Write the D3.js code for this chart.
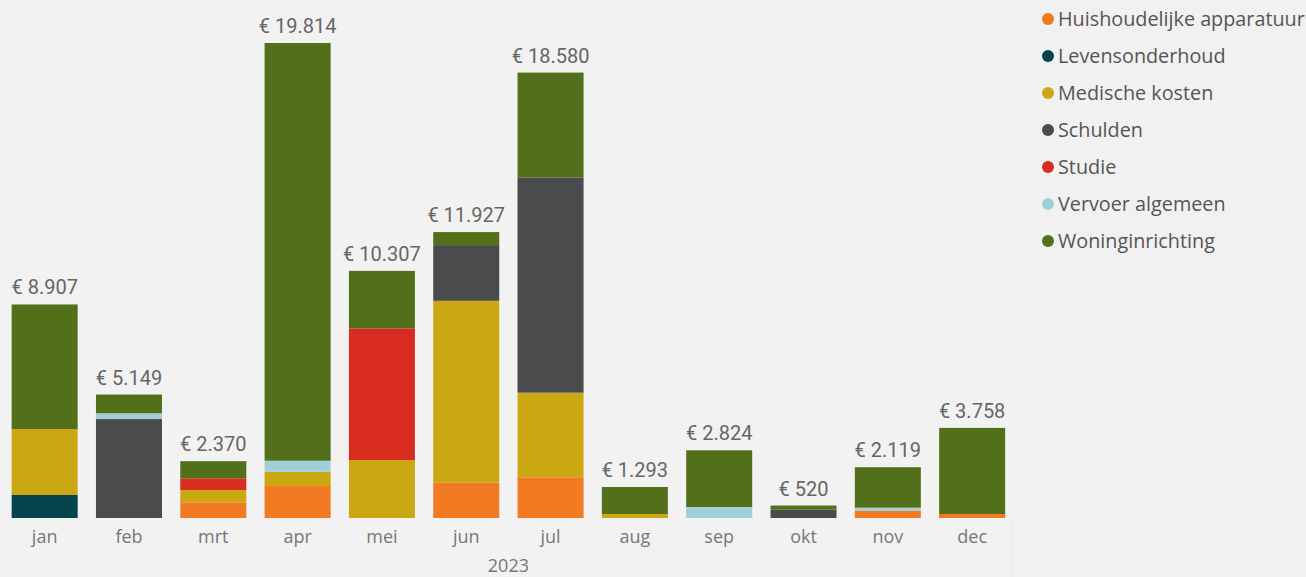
<!DOCTYPE html>
<html>
<head>
<meta charset="utf-8">
<script src="https://cdn.jsdelivr.net/npm/d3@7"></script>
<style>
  html, body { margin: 0; padding: 0; background: #f1f1f1; }
  svg { display: block; }
</style>
</head>
<body>
<svg id="chart" width="1306" height="577"></svg>
<script>
const months = ["jan","feb","mrt","apr","mei","jun","jul","aug","sep","okt","nov","dec"];
const yearLabel = "2023";
const seriesNames = ["Huishoudelijke apparatuur","Levensonderhoud","Medische kosten","Schulden","Studie","Vervoer algemeen","Woninginrichting"];
const seriesColors = ["#f27a22","#03444f","#cca714","#4a4b4d","#d92c20","#9fcfd8","#52701a"];

const huishoudelijke = [0, 0, 655, 1334, 0, 1472, 1697, 0, 0, 0, 305, 167];
const levensonderhoud = [960, 0, 0, 0, 0, 0, 0, 0, 0, 0, 0, 0];
const medische = [2752, 0, 513, 597, 2419, 7589, 3532, 167, 0, 0, 0, 0];
const schulden = [0, 4128, 0, 0, 0, 2323, 8978, 0, 0, 346, 0, 0];
const studie = [0, 0, 488, 0, 5492, 0, 0, 0, 0, 0, 0, 0];
const vervoer = [0, 240, 0, 459, 0, 0, 0, 0, 459, 0, 125, 0];
const woninginrichting = [5195, 781, 714, 17424, 2396, 543, 4373, 1126, 2365, 174, 1689, 3591];

const seriesValues = [huishoudelijke, levensonderhoud, medische, schulden, studie, vervoer, woninginrichting];

const table = months.map((m, i) => {
  const row = { month: m };
  seriesNames.forEach((s, j) => row[s] = seriesValues[j][i]);
  return row;
});
const totals = months.map((m, i) => d3.sum(seriesValues, s => s[i]));

const locale = d3.formatLocale({ decimal: ",", thousands: ".", grouping: [3], currency: ["€ ", ""] });
const fmt = locale.format("$,.0f");

const svg = d3.select("#chart");

const x = d3.scaleBand().domain(months).range([2.5, 1014.3]).paddingInner(0.217).paddingOuter(0.1085);
const y = d3.scaleLinear().domain([0, 19814]).range([518, 43]);
const color = d3.scaleOrdinal().domain(seriesNames).range(seriesColors);

// subtle plot panel
svg.append("rect").attr("x", 0).attr("y", 0).attr("width", 1012).attr("height", 577).attr("fill", "#f2f2f2");
svg.append("line").attr("x1", 1012).attr("x2", 1012).attr("y1", 518).attr("y2", 577).attr("stroke", "#e9e9e9");

const stack = d3.stack().keys(seriesNames);
const stacked = stack(table);

svg.append("g").selectAll("g").data(stacked).join("g")
  .attr("fill", d => color(d.key))
  .selectAll("rect").data(d => d).join("rect")
  .attr("x", d => x(d.data.month))
  .attr("width", x.bandwidth())
  .attr("y", d => y(d[1]))
  .attr("height", d => y(d[0]) - y(d[1]));

// value labels
svg.append("g").selectAll("text").data(months).join("text")
  .attr("x", d => x(d) + x.bandwidth() / 2)
  .attr("y", (d, i) => y(totals[i]) - 10)
  .attr("text-anchor", "middle")
  .attr("font-family", "Roboto, sans-serif")
  .attr("font-size", 20)
  .attr("fill", "#666")
  .text((d, i) => fmt(totals[i]));

// x axis
const xAxis = d3.axisBottom(x).tickSize(0).tickPadding(12);
const gx = svg.append("g").attr("transform", "translate(0,518)").call(xAxis);
gx.select(".domain").remove();
gx.selectAll("text")
  .attr("font-family", "'Open Sans', 'Noto Sans', sans-serif")
  .attr("font-size", 18)
  .attr("fill", "#777");

svg.append("text")
  .attr("x", (x.range()[0] + x.range()[1]) / 2)
  .attr("y", 572)
  .attr("text-anchor", "middle")
  .attr("font-family", "'Open Sans', 'Noto Sans', sans-serif")
  .attr("font-size", 18)
  .attr("fill", "#777")
  .text(yearLabel);

// legend
const legend = svg.append("g");
const items = legend.selectAll("g").data(seriesNames).join("g")
  .attr("transform", (d, i) => `translate(1048, ${19 + i * 37})`);
items.append("circle").attr("r", 6).attr("fill", d => color(d));
items.append("text")
  .attr("x", 10)
  .attr("dy", "0.35em")
  .attr("font-family", "'Open Sans', 'Noto Sans', sans-serif")
  .attr("font-size", 19.8)
  .attr("fill", "#555")
  .text(d => d);
</script>
</body>
</html>
